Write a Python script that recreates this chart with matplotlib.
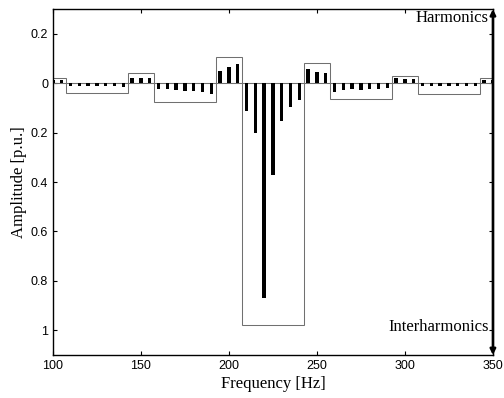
import matplotlib
matplotlib.use("Agg")
import matplotlib.pyplot as plt
import numpy as np

# Harmonic subgroup bins (5 Hz resolution) - plotted upward
harm_freq = [100, 105, 145, 150, 155, 195, 200, 205, 245, 250, 255, 295, 300, 305, 345, 350]
harm_vals = [0.015, 0.015, 0.020, 0.021, 0.022, 0.051, 0.064, 0.080, 0.059, 0.047, 0.043,
             0.022, 0.019, 0.017, 0.015, 0.012]

# Interharmonic bins - plotted downward
inter_freq = [110, 115, 120, 125, 130, 135, 140,
              160, 165, 170, 175, 180, 185, 190,
              210, 215, 220, 225, 230, 235, 240,
              260, 265, 270, 275, 280, 285, 290,
              310, 315, 320, 325, 330, 335, 340]
inter_vals = [0.011, 0.011, 0.011, 0.011, 0.011, 0.011, 0.014,
              0.024, 0.024, 0.028, 0.033, 0.031, 0.035, 0.045,
              0.113, 0.200, 0.868, 0.373, 0.153, 0.096, 0.069,
              0.035, 0.029, 0.025, 0.027, 0.025, 0.023, 0.019,
              0.012, 0.012, 0.012, 0.012, 0.012, 0.012, 0.012]

# Group values (boxes)
harm_group_center = [100, 150, 200, 250, 300, 350]
harm_group_vals = [0.021, 0.040, 0.108, 0.084, 0.028, 0.020]
inter_group_center = [125, 175, 225, 275, 325]
inter_group_vals = [0.040, 0.075, 0.980, 0.062, 0.042]

xticks = [100, 150, 200, 250, 300, 350]
yticks = [0.2, 0, -0.2, -0.4, -0.6, -0.8, -1.0]

fig = plt.figure(figsize=(5.04, 3.98), dpi=100)
ax = fig.add_axes([0.105, 0.108, 0.873, 0.869])

box_color = "#707070"
ax.bar(harm_group_center, harm_group_vals, width=15, fill=False,
       edgecolor=box_color, linewidth=0.75, zorder=2)
ax.bar(inter_group_center, -np.array(inter_group_vals), width=35, fill=False,
       edgecolor=box_color, linewidth=0.75, zorder=2)
ax.axhline(0, color=box_color, linewidth=0.75, zorder=2)

ax.bar(harm_freq, harm_vals, width=1.9, color="black", zorder=3)
ax.bar(inter_freq, -np.array(inter_vals), width=1.9, color="black", zorder=3)

ax.set_xlim(100, 350)
ax.set_ylim(-1.1, 0.3)
ax.set_xticks(xticks)
ax.set_yticks(yticks)
ax.set_yticklabels(["%g" % abs(v) for v in yticks])
ax.tick_params(direction="in", top=True, right=True, length=3, width=0.8,
               labelsize=9)
for lab in ax.get_xticklabels() + ax.get_yticklabels():
    lab.set_family("Liberation Sans")
for sp in ax.spines.values():
    sp.set_linewidth(1.0)

ax.set_xlabel("Frequency [Hz]", family="Liberation Serif", fontsize=12, labelpad=3)
ax.set_ylabel("Amplitude [p.u.]", family="Liberation Serif", fontsize=12, labelpad=3)

# double arrow along right edge
ax.annotate("", xy=(350, 0.3), xytext=(350, -1.1), xycoords="data",
            arrowprops=dict(arrowstyle="<|-|>", color="black", lw=1.8,
                            mutation_scale=8, shrinkA=0, shrinkB=0),
            annotation_clip=False, zorder=5)
ax.text(347.5, 0.265, "Harmonics", ha="right", va="center",
        family="Liberation Serif", fontsize=12)
ax.text(347.5, -0.985, "Interharmonics", ha="right", va="center",
        family="Liberation Serif", fontsize=12)

fig.savefig("out.png", dpi=100)
